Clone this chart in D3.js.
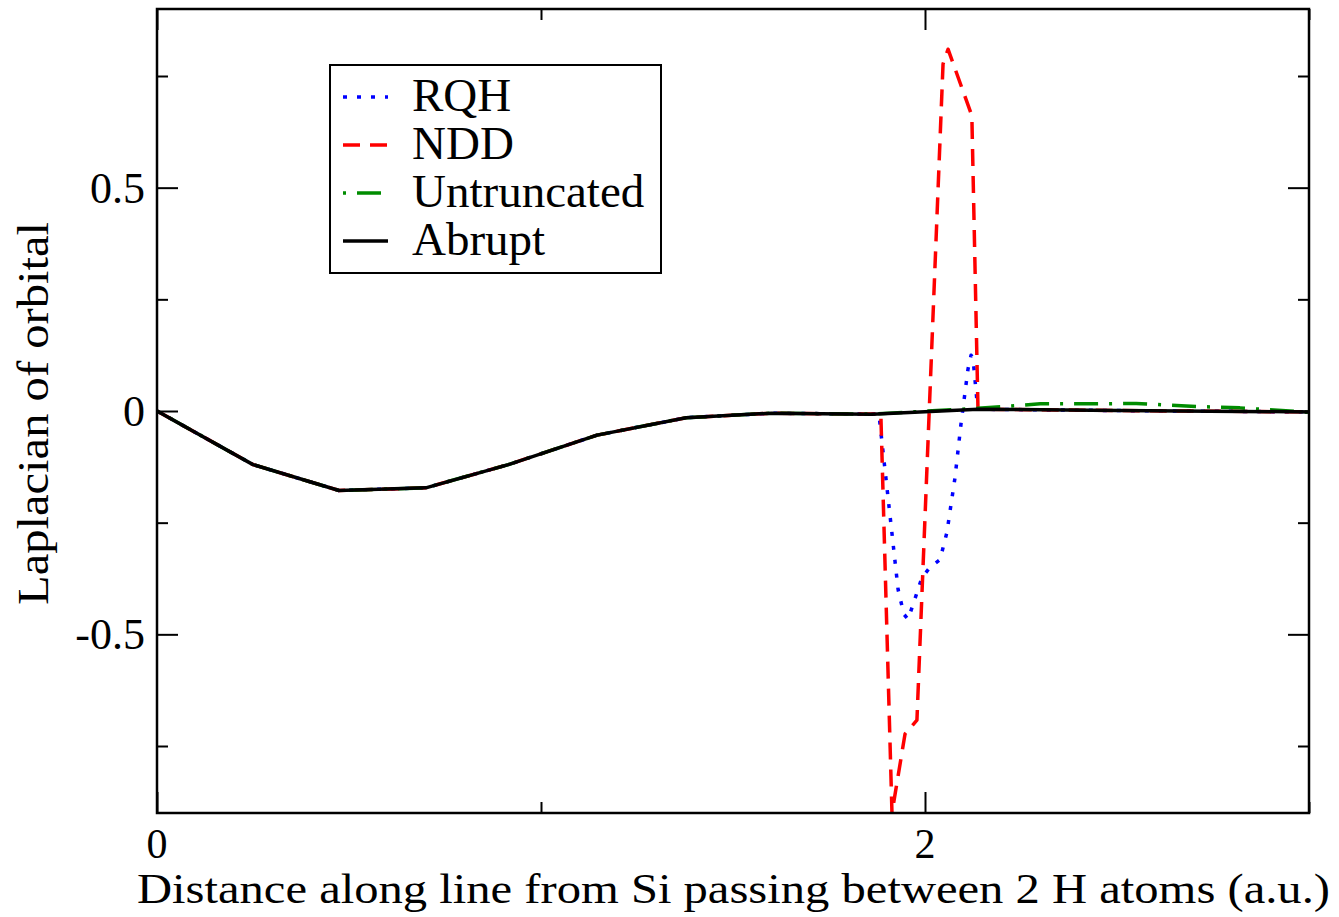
<!DOCTYPE html>
<html>
<head>
<meta charset="utf-8">
<script src="https://cdn.jsdelivr.net/npm/d3@7"></script>
<style>
  body { margin: 0; background: #fff; }
  svg { display: block; }
</style>
</head>
<body>
<svg id="chart" width="1339" height="917"></svg>
<script>
// values
const abruptX = [0, 0.25, 0.474, 0.70, 0.915, 1.146, 1.378, 1.60, 1.862, 2.138, 2.5, 3.0];
const abruptY = [0, -0.12, -0.178, -0.172, -0.12, -0.054, -0.015, -0.005, -0.007, 0.004, 0.001, -0.002];

const rqhX = [0, 0.25, 0.474, 0.70, 0.915, 1.146, 1.378, 1.60, 1.88, 1.93, 1.945, 1.956, 1.969, 1.992, 2.013, 2.039, 2.057, 2.078, 2.094, 2.112, 2.12, 2.125, 2.135, 2.138, 2.5, 3.0];
const rqhY = [0, -0.12, -0.178, -0.172, -0.12, -0.054, -0.015, -0.005, -0.007, -0.40, -0.455, -0.466, -0.433, -0.373, -0.35, -0.333, -0.272, -0.15, -0.027, 0.094, 0.125, 0.118, 0.025, 0.004, 0.001, -0.002];

const nddX = [0, 0.25, 0.474, 0.70, 0.915, 1.146, 1.378, 1.60, 1.885, 1.914, 1.948, 1.979, 2.047, 2.06, 2.122, 2.138, 2.5, 3.0];
const nddY = [0, -0.12, -0.178, -0.172, -0.12, -0.054, -0.015, -0.005, -0.007, -0.90, -0.723, -0.692, 0.777, 0.81, 0.661, 0.004, 0.001, -0.002];

const untruncX = [0, 0.25, 0.474, 0.70, 0.915, 1.146, 1.378, 1.60, 1.862, 2.138, 2.3, 2.43, 2.55, 2.68, 2.82, 2.95, 3.0];
const untruncY = [0, -0.12, -0.178, -0.172, -0.12, -0.054, -0.015, -0.005, -0.007, 0.006, 0.016, 0.016, 0.017, 0.011, 0.007, 0.0, -0.003];

const seriesNames = ["RQH", "NDD", "Untruncated", "Abrupt"];
const seriesColors = ["#0000ff", "#ff0000", "#008c00", "#000000"];
const seriesDash = ["4,10", "17,10", "3,11,24,11", null];

const xMajor = [0, 2];
const xMinor = [1, 3];
const yMajor = [-0.5, 0, 0.5];
const yMinor = [-0.75, -0.25, 0.25, 0.75];
const xTickLabels = ["0", "2"];
const yTickLabels = ["-0.5", "0", "0.5"];

const serif = '"Liberation Serif", "Times New Roman", Times, "DejaVu Serif", serif';

const svg = d3.select('#chart').attr('font-family', serif);
const plotLeft = 157, plotRight = 1309, plotTop = 9, plotBottom = 813;

const x = d3.scaleLinear().domain([0, 3]).range([plotLeft, plotRight]);
const y = d3.scaleLinear().domain([-0.9, 0.9]).range([plotBottom, plotTop]);

svg.append('defs').append('clipPath').attr('id', 'plotclip')
   .append('rect').attr('x', plotLeft).attr('y', plotTop)
   .attr('width', plotRight - plotLeft).attr('height', plotBottom - plotTop);

// curves
const seriesData = [
    d3.zip(rqhX, rqhY),
    d3.zip(nddX, nddY),
    d3.zip(untruncX, untruncY),
    d3.zip(abruptX, abruptY)
];
const line = d3.line().x(d => x(d[0])).y(d => y(d[1]));

const curves = svg.append('g').attr('clip-path', 'url(#plotclip)');
seriesData.forEach((data, i) => {
    curves.append('path')
        .datum(data)
        .attr('d', line)
        .attr('fill', 'none')
        .attr('stroke', seriesColors[i])
        .attr('stroke-width', 3.5)
        .attr('stroke-dasharray', seriesDash[i])
        .attr('stroke-linejoin', 'round');
});

// ticks pointing inward on all four sides
function ticks(axisFn, scale, values, size, transform) {
    const g = svg.append('g')
        .attr('transform', transform)
        .call(axisFn(scale).tickValues(values).tickSize(-size).tickFormat(''));
    g.select('.domain').remove();
    g.selectAll('line').attr('stroke', '#000').attr('stroke-width', 2);
}
ticks(d3.axisBottom, x, xMajor, 21, `translate(0,${plotBottom})`);
ticks(d3.axisBottom, x, xMinor, 11, `translate(0,${plotBottom})`);
ticks(d3.axisTop, x, xMajor, 21, `translate(0,${plotTop})`);
ticks(d3.axisTop, x, xMinor, 11, `translate(0,${plotTop})`);
ticks(d3.axisLeft, y, yMajor, 21, `translate(${plotLeft},0)`);
ticks(d3.axisLeft, y, yMinor, 11, `translate(${plotLeft},0)`);
ticks(d3.axisRight, y, yMajor, 21, `translate(${plotRight},0)`);
ticks(d3.axisRight, y, yMinor, 11, `translate(${plotRight},0)`);

// frame
svg.append('rect')
   .attr('x', plotLeft).attr('y', plotTop)
   .attr('width', plotRight - plotLeft).attr('height', plotBottom - plotTop)
   .attr('fill', 'none').attr('stroke', '#000').attr('stroke-width', 2.5);

// tick labels
svg.selectAll('.xlab').data(xMajor).enter().append('text')
   .attr('font-family', serif)
   .attr('x', d => x(d)).attr('y', 858)
   .attr('text-anchor', 'middle').attr('font-size', 42)
   .text((d, i) => xTickLabels[i]);

svg.selectAll('.ylab').data(yMajor).enter().append('text')
   .attr('font-family', serif)
   .attr('x', 145).attr('y', d => y(d) + 15)
   .attr('text-anchor', 'end').attr('font-size', 44)
   .text((d, i) => yTickLabels[i]);

// axis titles
svg.append('text')
   .attr('font-family', serif)
   .attr('x', 137).attr('y', 903)
   .attr('font-size', 42)
   .attr('textLength', 1193).attr('lengthAdjust', 'spacingAndGlyphs')
   .text('Distance along line from Si passing between 2 H atoms (a.u.)');

svg.append('text')
   .attr('font-family', serif)
   .attr('transform', 'translate(48,605) rotate(-90)')
   .attr('font-size', 44)
   .attr('textLength', 383).attr('lengthAdjust', 'spacingAndGlyphs')
   .text('Laplacian of orbital');

// legend
const legend = svg.append('g');
legend.append('rect')
   .attr('x', 330).attr('y', 65).attr('width', 331).attr('height', 208)
   .attr('fill', '#fff').attr('stroke', '#000').attr('stroke-width', 2);

const legendY = d3.scalePoint().domain(seriesNames).range([97, 241]);
seriesNames.forEach((name, i) => {
    legend.append('line')
        .attr('x1', 343).attr('x2', 388)
        .attr('y1', legendY(name)).attr('y2', legendY(name))
        .attr('stroke', seriesColors[i]).attr('stroke-width', 3.5)
        .attr('stroke-dasharray', seriesDash[i]);
    legend.append('text')
        .attr('font-family', serif)
        .attr('x', 412).attr('y', legendY(name) + 14)
        .attr('font-size', 47)
        .text(name);
});
</script>
</body>
</html>
